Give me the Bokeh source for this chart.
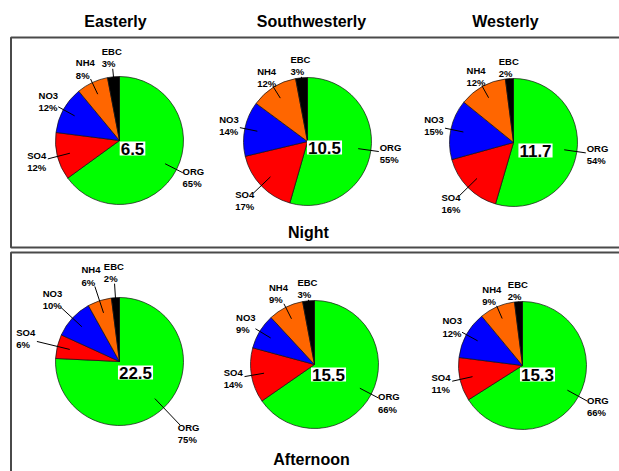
import numpy as np
from bokeh.plotting import figure
from bokeh.models import Range1d, ColumnDataSource
from bokeh.core.properties import value
from bokeh.embed import file_html
from bokeh.resources import INLINE

# ---- data -------------------------------------------------------------
species = ["ORG", "SO4", "NO3", "NH4", "EBC"]
species_colors = ["#00ff00", "#ff0000", "#0000ff", "#ff6600", "#000000"]
sectors = ["Easterly", "Southwesterly", "Westerly"]
periods = ["Night", "Afternoon"]

# mass fractions (%) per sector, in the order of `species`
night_easterly = [65, 12, 12, 8, 3]
night_southwesterly = [55, 17, 14, 12, 3]
night_westerly = [54, 16, 15, 12, 2]
afternoon_easterly = [75, 6, 10, 6, 2]
afternoon_southwesterly = [66, 14, 9, 9, 3]
afternoon_westerly = [66, 11, 12, 9, 2]

# total mass concentrations shown in the middle of each pie
night_totals = [6.5, 10.5, 11.7]
afternoon_totals = [22.5, 15.5, 15.3]

# ---- layout (page pixels, y measured from the top) ---------------------
W, H = 619, 471
R = 64
FONT = "Liberation Sans"

pies = [
    # fractions, total, centre, label distances (ORG..EBC), total-box offset
    (night_easterly, night_totals[0], (119, 140), [82, 85, 81, 79, 83], (13, 8)),
    (night_southwesterly, night_totals[1], (307, 141), [83, 86, 80, 76, 76], (17, 6)),
    (night_westerly, night_totals[2], (513, 142), [84, 87, 81, 76, 75], (22, 8)),
    (afternoon_easterly, afternoon_totals[0], (119, 361), [99, 96, 91, 90, 89], (16, 11)),
    (afternoon_southwesterly, afternoon_totals[1], (314, 364), [83, 82, 80, 79, 76], (14, 10)),
    (afternoon_westerly, afternoon_totals[2], (522, 365), [85, 83, 80, 76, 75], (15, 9)),
]
title_x = [115, 311, 505]


def Y(y):
    return H - y


p = figure(width=W, height=H, output_backend="svg", toolbar_location=None,
           x_range=Range1d(0, W), y_range=Range1d(0, H), min_border=0)
p.axis.visible = False
p.grid.visible = False
p.outline_line_color = None
p.background_fill_color = "white"
p.border_fill_color = "white"

# frames around the night and afternoon rows
p.quad(left=[10.5, 10.5], right=[W + 10, W + 10], top=[Y(37), Y(252)],
       bottom=[Y(247), -10], fill_color=None, line_color="#4a4a4a", line_width=2)

wedge = dict(x=[], y=[], start=[], end=[], color=[])
leader = dict(xs=[], ys=[])
lab = dict(x=[], y=[], text=[])
tot = dict(x=[], y=[], text=[])

for fractions, total, (cx, cy), dists, (ox, oy) in pies:
    f = np.asarray(fractions, dtype=float)
    f = f / f.sum()
    cum = np.concatenate([[0.0], np.cumsum(f)])
    for i in range(len(species)):
        a0 = np.pi / 2 - 2 * np.pi * cum[i]
        a1 = np.pi / 2 - 2 * np.pi * cum[i + 1]
        wedge["x"].append(cx)
        wedge["y"].append(Y(cy))
        wedge["start"].append(a1)
        wedge["end"].append(a0)
        wedge["color"].append(species_colors[i])

        mid = (a0 + a1) / 2
        ux, uy = np.cos(mid), np.sin(mid)
        d = dists[i]
        r0, r1 = 0.8 * R, d - 11
        leader["xs"].append([cx + r0 * ux, cx + r1 * ux])
        leader["ys"].append([Y(cy) + r0 * uy, Y(cy) + r1 * uy])
        lab["x"].append(cx + d * ux - 10)
        lab["y"].append(Y(cy) + d * uy)
        lab["text"].append(f"{species[i]}\n{fractions[i]}%")
    tot["x"].append(cx + ox)
    tot["y"].append(Y(cy) - oy)
    tot["text"].append(f"{total}")

p.wedge(x="x", y="y", radius=R, start_angle="start", end_angle="end",
        fill_color="color", line_color="#111111", line_width=0.7,
        source=ColumnDataSource(wedge))
p.multi_line(xs="xs", ys="ys", line_color="black", line_width=1,
             source=ColumnDataSource(leader))
p.text(x="x", y="y", text="text", source=ColumnDataSource(lab),
       text_font=value(FONT), text_font_style="bold", text_font_size="9.5px",
       text_align="left", text_baseline="middle", text_line_height=1.1,
       text_color="black")
p.text(x="x", y="y", text="text", source=ColumnDataSource(tot),
       text_font=value(FONT), text_font_style="bold", text_font_size="17px",
       text_align="center", text_baseline="middle", text_color="black",
       background_fill_color="white", padding=1)

# column and row titles
p.text(x=title_x, y=[Y(21)] * 3, text=sectors, text_font=value(FONT),
       text_font_style="bold", text_font_size="16px", text_align="center",
       text_baseline="middle", text_color="black")
p.text(x=[308, 311], y=[Y(232), Y(459)], text=periods, text_font=value(FONT),
       text_font_style="bold", text_font_size="16px", text_align="center",
       text_baseline="middle", text_color="black")

open("out.html", "w").write(file_html(p, INLINE))
